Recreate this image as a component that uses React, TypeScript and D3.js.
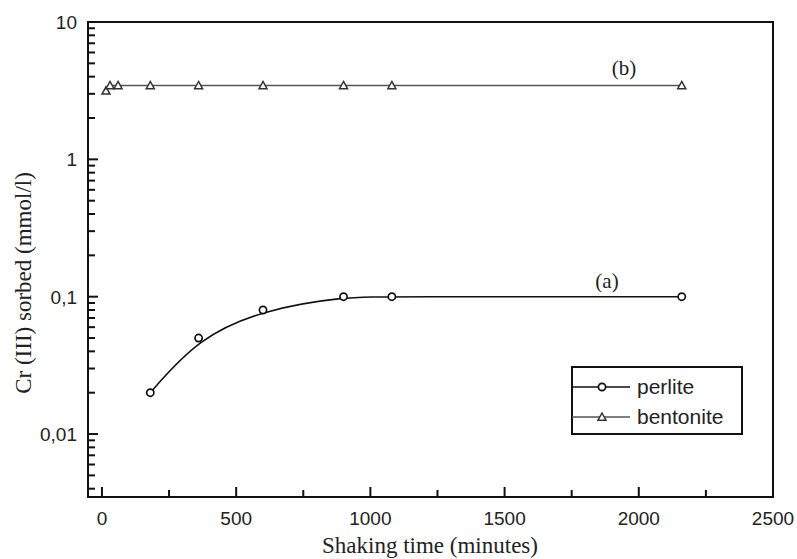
import React from "react";
import * as d3 from "d3";

const perliteX = [180, 360, 600, 900, 1080, 2160];
const perliteY = [0.02, 0.05, 0.08, 0.1, 0.1, 0.1];
const bentoniteX = [15, 30, 60, 180, 360, 600, 900, 1080, 2160];
const bentoniteY = [3.15, 3.45, 3.45, 3.45, 3.45, 3.45, 3.45, 3.45, 3.45];
const xTicks = [0, 500, 1000, 1500, 2000, 2500];
const xMinorTicks = [250, 750, 1250, 1750, 2250];
const yTicks = [0.01, 0.1, 1, 10];
const yTickLabels = ["0,01", "0,1", "1", "10"];
const legendLabels = ["perlite", "bentonite"];

const W = 797, H = 559;
const L = 88, R = 773, T = 22, B = 497;

export default function App() {
  const x = d3.scaleLinear().domain([-52, 2500]).range([L, R]);
  const y = d3.scaleLog().domain([0.00348, 10]).range([B, T]);

  const minorY: number[] = [];
  for (const dec of [0.001, 0.01, 0.1, 1]) {
    for (let k = 2; k <= 9; k++) {
      const v = dec * k;
      if (v >= 0.00348 && v <= 10) minorY.push(v);
    }
  }

  const perlitePts = perliteX.map((d, i) => [d, perliteY[i]] as [number, number]);
  const bentPts = bentoniteX.map((d, i) => [d, bentoniteY[i]] as [number, number]);

  const perliteLine = d3
    .line<[number, number]>()
    .x((d) => x(d[0]))
    .y((d) => y(d[1]))
    .curve(d3.curveBasis)(perlitePts) as string;
  const bentLine = d3
    .line<[number, number]>()
    .x((d) => x(d[0]))
    .y((d) => y(d[1]))(bentPts) as string;

  const tri = (cx: number, cy: number, s = 4) =>
    `M${cx},${cy - s}L${cx + s},${cy + s * 0.8}L${cx - s},${cy + s * 0.8}Z`;

  const sans = "Liberation Sans, Arial, sans-serif";
  const serif = "Liberation Serif, Times New Roman, serif";

  return (
    <svg width={W} height={H} style={{ position: "absolute", left: 0, top: 0, background: "#fff" }}>
      <rect x={0} y={0} width={W} height={H} fill="#fff" />
      {/* bentonite */}
      <path d={bentLine} fill="none" stroke="#555" strokeWidth={1.3} />
      {bentPts.map((d, i) => (
        <path key={"b" + i} d={tri(x(d[0]), y(d[1]))} fill="#fff" stroke="#333" strokeWidth={1.5} />
      ))}
      {/* perlite */}
      <path d={perliteLine} fill="none" stroke="#111" strokeWidth={1.6} />
      {perlitePts.map((d, i) => (
        <circle key={"p" + i} cx={x(d[0])} cy={y(d[1])} r={3.6} fill="#fff" stroke="#111" strokeWidth={1.7} />
      ))}
      {/* frame */}
      <rect x={L} y={T} width={R - L} height={B - T} fill="none" stroke="#111" strokeWidth={2} />
      {/* x ticks */}
      {xTicks.map((t) => (
        <g key={"xt" + t}>
          <line x1={x(t)} x2={x(t)} y1={B} y2={B - 10} stroke="#111" strokeWidth={2} />
          <text x={x(t)} y={525} textAnchor="middle" fontFamily={sans} fontSize={19} fill="#222">
            {t}
          </text>
        </g>
      ))}
      {xMinorTicks.map((t) => (
        <line key={"xm" + t} x1={x(t)} x2={x(t)} y1={B} y2={B - 7} stroke="#111" strokeWidth={2} />
      ))}
      {/* y ticks */}
      {yTicks.map((t, i) => (
        <g key={"yt" + t}>
          <line x1={L} x2={L + 10} y1={y(t)} y2={y(t)} stroke="#111" strokeWidth={2} />
          <text x={77} y={y(t) + 7} textAnchor="end" fontFamily={sans} fontSize={19} fill="#222">
            {yTickLabels[i]}
          </text>
        </g>
      ))}
      {minorY.map((t) => (
        <line key={"ym" + t} x1={L} x2={L + 7} y1={y(t)} y2={y(t)} stroke="#111" strokeWidth={2} />
      ))}
      {/* annotations */}
      <text x={624} y={75} textAnchor="middle" fontFamily={serif} fontSize={21} fill="#222">(b)</text>
      <text x={607} y={288} textAnchor="middle" fontFamily={serif} fontSize={21} fill="#222">(a)</text>
      {/* legend */}
      <rect x={572} y={367} width={170} height={67} fill="#fff" stroke="#111" strokeWidth={2} />
      <line x1={572} x2={630} y1={387} y2={387} stroke="#111" strokeWidth={1.6} />
      <circle cx={602} cy={387} r={3.6} fill="#fff" stroke="#111" strokeWidth={1.7} />
      <line x1={572} x2={630} y1={417} y2={417} stroke="#555" strokeWidth={1.3} />
      <path d={tri(602, 417)} fill="#fff" stroke="#333" strokeWidth={1.5} />
      {legendLabels.map((l, i) => (
        <text key={l} x={637} y={394 + i * 30} fontFamily={sans} fontSize={21} fill="#222">
          {l}
        </text>
      ))}
      {/* axis titles */}
      <text x={430} y={553} textAnchor="middle" fontFamily={serif} fontSize={23} fill="#222">
        Shaking time (minutes)
      </text>
      <text
        transform={`translate(31,283) rotate(-90)`}
        textAnchor="middle"
        fontFamily={serif}
        fontSize={23}
        fill="#222"
      >
        Cr (III) sorbed (mmol/l)
      </text>
    </svg>
  );
}
